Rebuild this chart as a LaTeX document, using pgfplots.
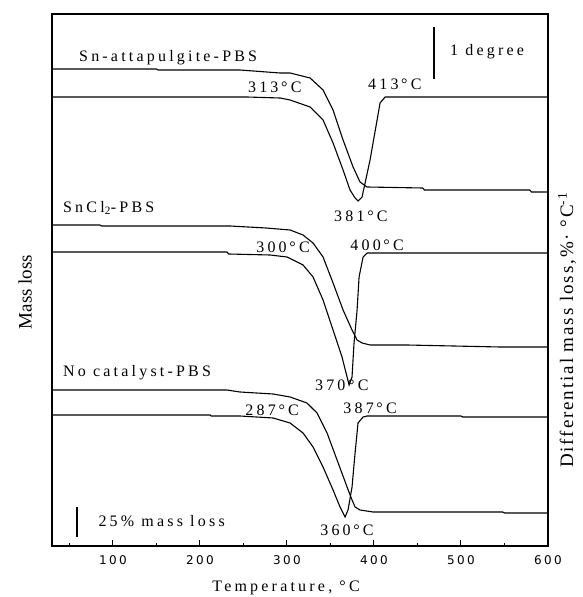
\documentclass[border=0pt]{standalone}
\usepackage{pgfplots}
\pgfplotsset{compat=1.18}
\usepackage{fontspec}
\setmainfont{Liberation Serif}
\newfontfamily\spaced[LetterSpace=20]{Liberation Serif}
\newfontfamily\rspaced[LetterSpace=10]{Liberation Serif}
\newfontfamily\tickfont[LetterSpace=20]{DejaVu Sans}
\begin{document}
\begin{tikzpicture}
\begin{axis}[
  scale only axis, width=496pt, height=532pt,
  xmin=30, xmax=600, ymin=0, ymax=532,
  axis line style={line width=1.3pt},
  xtick={100,200,...,600}, minor xtick={50,150,...,550},
  ytick=\empty,
  tick align=inside, xtick pos=bottom,
  major tick length=6pt, minor tick length=3.5pt,
  tick style={line width=1pt, black},
  /pgf/number format/assume math mode=true,
  xticklabel style={font=\tickfont\fontsize{12}{13}\selectfont, yshift=-6pt},
  clip=false,
]
% Sn-attapulgite-PBS : TG
\addplot[black, line width=1.1pt] coordinates {(30,477) (150,477) (152,476) (246,476) (292,473) (303.6,473) (326.6,468) (341.5,456) (353,436) (364.5,406) (376,379) (384,364) (392,359) (456,358) (458,356) (579,356) (581,354) (599,354)};
% Sn-attapulgite-PBS : DTG
\addplot[black, line width=1.1pt] coordinates {(30,449) (254,449) (292,448) (303.6,446) (326.6,439) (341.5,426) (353,403) (364.5,376) (372.5,356) (378.3,348) (381.7,345) (386.3,349) (389.8,363) (395.5,386) (403.6,426) (407,443) (412.8,449) (599,449)};
% SnCl2-PBS : TG
\addplot[black, line width=1.1pt] coordinates {(30,321) (85,321) (87,320) (234.6,320) (276,318) (303.6,316) (318.5,311) (330,303) (341.5,289) (353,263) (364.5,236) (374.8,216) (380.6,206) (386.3,203) (395.5,201) (438,201) (545,199) (599,199)};
% SnCl2-PBS : DTG
\addplot[black, line width=1.1pt] coordinates {(30,294) (231,294) (233,292) (280.6,291) (300.1,289) (318.5,281) (330,269) (341.5,246) (353,216) (363.3,189) (369.1,169) (371.4,161) (374.8,169) (377.1,203) (380.6,236) (382.9,269) (387.5,289) (392.1,293) (599,293)};
% No catalyst-PBS : TG
\addplot[black, line width=1.1pt] coordinates {(30,156) (231,156) (246,154) (284,152) (303.6,149) (323,143) (334.6,133) (346.1,113) (357.6,86) (369.1,59) (374.8,46) (378.3,39) (384,36) (399,34) (548,34) (550,33) (599,33)};
% No catalyst-PBS : DTG
\addplot[black, line width=1.1pt] coordinates {(30,131) (211.6,131) (213,130) (246,130) (284,128) (303.6,123) (318.5,113) (330,99) (341.5,79) (353,56) (361,39) (366.8,29) (370.2,36) (374.8,59) (378.3,93) (381.7,123) (387.5,129) (392,130) (500,130) (502,129) (599,129)};
% scale bars
\addplot[black, line width=1.2pt] coordinates {(469,467) (469,519)};
\addplot[black, line width=1.2pt] coordinates {(58.7,9) (58.7,39)};
% labels
\begin{scope}[every node/.style={font=\spaced\fontsize{16}{18}\selectfont, inner sep=0pt}]
\node[anchor=west] at (axis cs:61,488) {Sn-attapulgite-PBS};
\node at (axis cs:286,459) {313\,°C};
\node at (axis cs:424,462) {413\,°C};
\node at (axis cs:530,494) {1 degree};
\node at (axis cs:385,330) {381\,°C};
\node[anchor=west] at (axis cs:42.6,338) {SnCl\textsubscript{2}-PBS};
\node at (axis cs:295.5,299) {300\,°C};
\node at (axis cs:403.6,301) {400\,°C};
\node at (axis cs:363,161) {370\,°C};
\node[anchor=west] at (axis cs:42.6,173) {No catalyst-PBS};
\node at (axis cs:283,136) {287\,°C};
\node at (axis cs:395.5,138) {387\,°C};
\node at (axis cs:369,16) {360\,°C};
\node at (axis cs:156,25) {25\% mass loss};
\node at (axis cs:299,-42) {Temperature, °C};
\end{scope}
\node[rotate=90, font=\fontsize{19}{21}\selectfont] at (axis cs:-1,254) {Mass loss};
\node[rotate=90, font=\rspaced\fontsize{19}{21}\selectfont] at (axis cs:622,216) {Differential mass loss,\%· °C\textsuperscript{-1}};
\end{axis}
\pgfresetboundingbox
\path[use as bounding box] (current axis.south west) ++(-52pt,-51pt) rectangle ++(583pt,597pt);
\end{tikzpicture}
\end{document}
